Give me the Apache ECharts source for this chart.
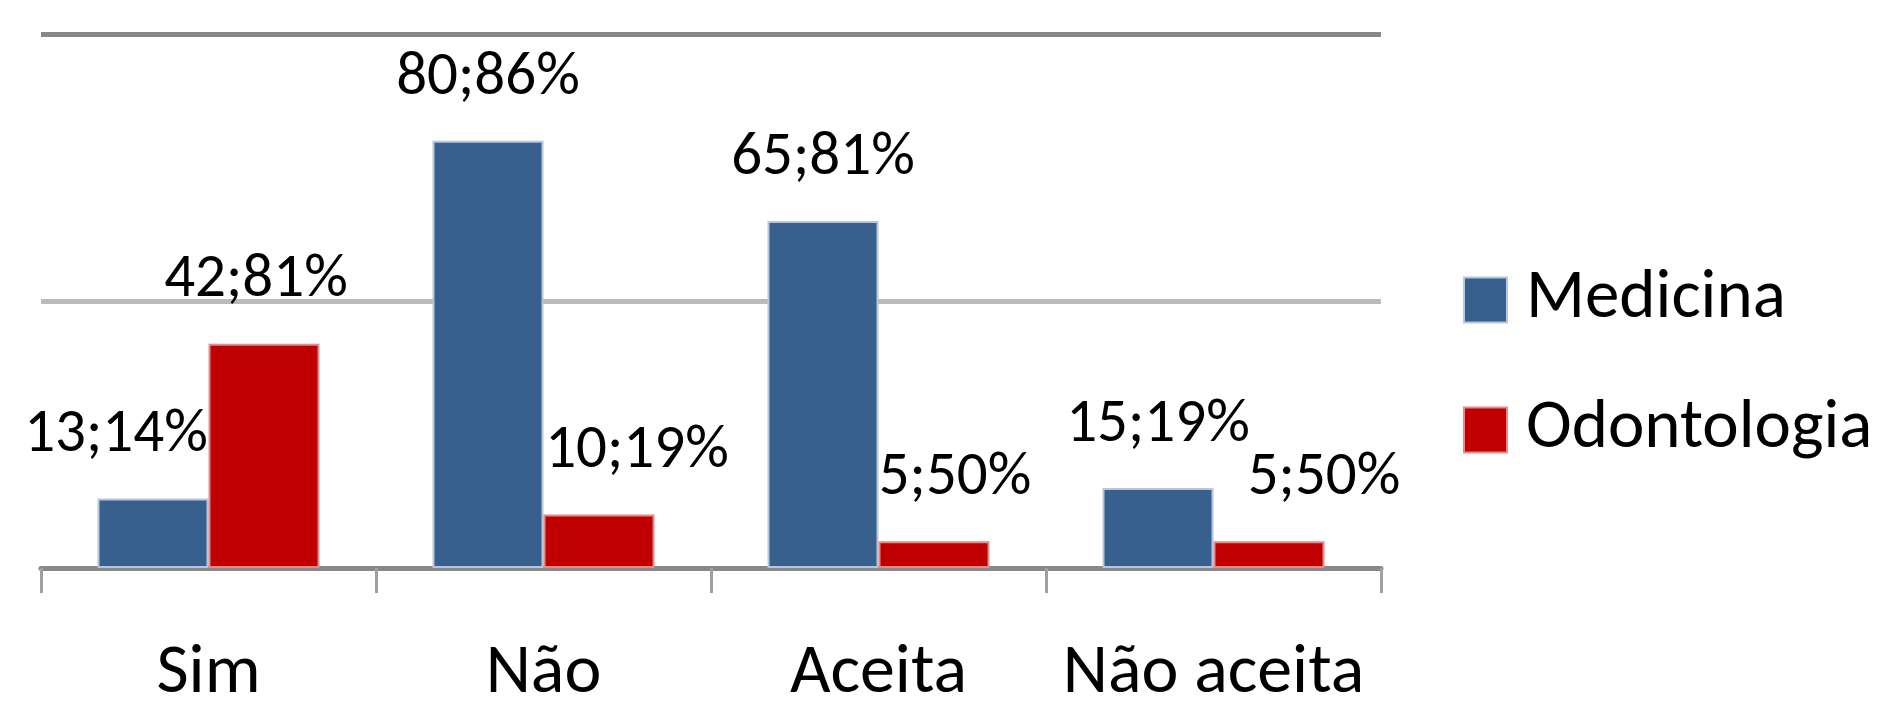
<!DOCTYPE html>
<html>
<head>
<meta charset="utf-8">
<script src="https://cdn.jsdelivr.net/npm/echarts@6/dist/echarts.min.js"></script>
<style>
  html, body { margin: 0; padding: 0; background: #fff; }
  #chart { width: 1904px; height: 728px; }
</style>
</head>
<body>
<div id="chart"></div>
<script>
var categories = ['Sim', 'Não', 'Aceita', 'Não aceita'];
var seriesNames = ['Medicina', 'Odontologia'];
// contagem e percentual de cada barra
var medicinaN = [13, 80, 65, 15];
var medicinaPct = [14, 86, 81, 19];
var odontoN = [42, 10, 5, 5];
var odontoPct = [81, 19, 50, 50];

// deslocamento horizontal dos rótulos (como no original)
var medShift = [-37, 0, 0, 0];
var odoShift = [-8, 38, 21, 55];

var FONT = 'Carlito, Calibri, "Liberation Sans", sans-serif';

function makeData(vals, pcts, shifts) {
	return vals.map(function (v, i) {
		return {
			value: v,
			label: { offset: [shifts[i], 0] },
			pct: pcts[i]
		};
	});
}

function barLabel() {
	return {
		show: true,
		position: 'top',
		distance: 32,
		fontFamily: FONT,
		fontSize: 61,
		color: '#000',
		formatter: function (p) { return p.value + ';' + p.data.pct + '%'; }
	};
}

var chart = echarts.init(document.getElementById('chart'));
var option = {
	animation: false,
	grid: { left: 41, right: 523, top: 34, bottom: 160 },
	legend: {
		orient: 'vertical',
		left: 1458,
		top: 259,
		icon: 'rect',
		itemWidth: 43,
		itemHeight: 45,
		itemGap: 58,
		data: seriesNames,
		textStyle: {
			fontFamily: FONT,
			fontSize: 69,
			lineHeight: 72,
			color: '#000',
			padding: [0, 0, 0, 14]
		}
	},
	xAxis: {
		type: 'category',
		data: categories,
		axisLine: { lineStyle: { color: '#888', width: 5 } },
		axisTick: { show: true, length: 25, lineStyle: { color: '#a0a0a0', width: 3 } },
		axisLabel: {
			interval: 0,
			margin: 71,
			fontFamily: FONT,
			fontSize: 70,
			color: '#000'
		}
	},
	yAxis: {
		type: 'value',
		min: 0,
		max: 100,
		interval: 50,
		axisLine: { show: false },
		axisTick: { show: false },
		axisLabel: { show: false },
		splitLine: { lineStyle: { color: ['#888', '#bbb', '#888'], width: 5 } }
	},
	series: [
		{
			name: seriesNames[0],
			type: 'bar',
			barWidth: 111,
			barGap: '0%',
			data: makeData(medicinaN, medicinaPct, medShift),
			itemStyle: { color: '#37608f', borderColor: '#b9c6d8', borderWidth: 2 },
			label: barLabel()
		},
		{
			name: seriesNames[1],
			type: 'bar',
			barWidth: 111,
			barGap: '0%',
			data: makeData(odontoN, odontoPct, odoShift),
			itemStyle: { color: '#c00000', borderColor: '#e08c8c', borderWidth: 2 },
			label: barLabel()
		}
	]
};
chart.setOption(option);
</script>
</body>
</html>
